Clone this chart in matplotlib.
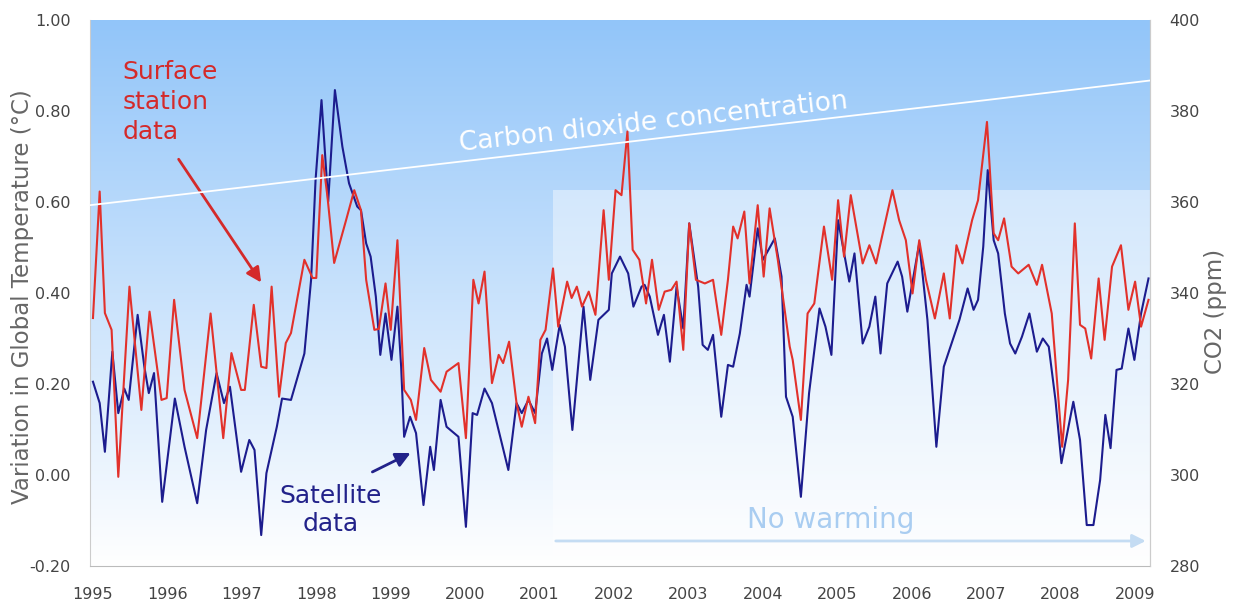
import numpy as np
import matplotlib
matplotlib.use('Agg')
import matplotlib.pyplot as plt
from matplotlib.patches import Rectangle

# surface station anomalies (deg C)
surface_years = [1995.00, 1995.09, 1995.16, 1995.25, 1995.34, 1995.49, 1995.65, 1995.76, 1995.92, 1995.99,
                 1996.09, 1996.23, 1996.40, 1996.58, 1996.75, 1996.86, 1996.99, 1997.04, 1997.16, 1997.26,
                 1997.33, 1997.40, 1997.50, 1997.59, 1997.66, 1997.84, 1997.95, 1998.00, 1998.08, 1998.15,
                 1998.24, 1998.40, 1998.51, 1998.60, 1998.67, 1998.78, 1998.84, 1998.93, 1999.00, 1999.09,
                 1999.18, 1999.27, 1999.34, 1999.45, 1999.54, 1999.67, 1999.75, 1999.91, 2000.01, 2000.11,
                 2000.18, 2000.26, 2000.36, 2000.45, 2000.51, 2000.59, 2000.69, 2000.76, 2000.85, 2000.94,
                 2001.01, 2001.08, 2001.18, 2001.25, 2001.37, 2001.43, 2001.50, 2001.57, 2001.66, 2001.75,
                 2001.86, 2001.93, 2002.02, 2002.10, 2002.18, 2002.25, 2002.34, 2002.43, 2002.51, 2002.60,
                 2002.68, 2002.77, 2002.84, 2002.93, 2003.01, 2003.10, 2003.22, 2003.33, 2003.44, 2003.53,
                 2003.60, 2003.66, 2003.75, 2003.82, 2003.93, 2004.01, 2004.09, 2004.20, 2004.36, 2004.40,
                 2004.51, 2004.60, 2004.69, 2004.82, 2004.93, 2005.01, 2005.09, 2005.18, 2005.34, 2005.43,
                 2005.52, 2005.60, 2005.74, 2005.83, 2005.92, 2006.01, 2006.10, 2006.19, 2006.31, 2006.43,
                 2006.51, 2006.60, 2006.68, 2006.81, 2006.89, 2007.01, 2007.10, 2007.16, 2007.24, 2007.34,
                 2007.43, 2007.57, 2007.68, 2007.75, 2007.88, 2007.95, 2008.02, 2008.10, 2008.19, 2008.26,
                 2008.33, 2008.41, 2008.51, 2008.59, 2008.69, 2008.81, 2008.91, 2009.00, 2009.08, 2009.18]
surface_anom = [0.345, 0.623, 0.356, 0.319, -0.004, 0.414, 0.143, 0.359, 0.165, 0.169,
                0.385, 0.187, 0.081, 0.355, 0.081, 0.268, 0.187, 0.187, 0.374, 0.238,
                0.235, 0.414, 0.172, 0.290, 0.312, 0.473, 0.433, 0.433, 0.703, 0.612,
                0.466, 0.560, 0.626, 0.582, 0.429, 0.319, 0.321, 0.421, 0.319, 0.516,
                0.187, 0.165, 0.121, 0.279, 0.209, 0.183, 0.227, 0.246, 0.081, 0.429,
                0.377, 0.447, 0.202, 0.264, 0.246, 0.293, 0.158, 0.106, 0.172, 0.114,
                0.297, 0.319, 0.454, 0.326, 0.425, 0.389, 0.414, 0.370, 0.403, 0.352,
                0.582, 0.429, 0.626, 0.615, 0.755, 0.495, 0.473, 0.377, 0.473, 0.363,
                0.403, 0.407, 0.425, 0.275, 0.553, 0.429, 0.421, 0.429, 0.308, 0.429,
                0.546, 0.520, 0.579, 0.421, 0.593, 0.436, 0.586, 0.473, 0.282, 0.253,
                0.121, 0.355, 0.377, 0.546, 0.429, 0.604, 0.480, 0.615, 0.465, 0.505,
                0.465, 0.524, 0.626, 0.560, 0.516, 0.399, 0.516, 0.429, 0.344, 0.443,
                0.344, 0.505, 0.465, 0.560, 0.604, 0.776, 0.531, 0.516, 0.564, 0.458,
                0.443, 0.462, 0.418, 0.462, 0.355, 0.209, 0.062, 0.209, 0.553, 0.330,
                0.322, 0.256, 0.432, 0.297, 0.458, 0.505, 0.363, 0.425, 0.326, 0.385]

# satellite anomalies (deg C)
satellite_years = [1995.00, 1995.09, 1995.16, 1995.26, 1995.34, 1995.42, 1995.48, 1995.60, 1995.69, 1995.75,
                   1995.82, 1995.93, 1996.10, 1996.23, 1996.40, 1996.52, 1996.66, 1996.76, 1996.84, 1996.99,
                   1997.10, 1997.17, 1997.26, 1997.33, 1997.47, 1997.54, 1997.66, 1997.84, 1997.93, 1997.99,
                   1998.07, 1998.16, 1998.25, 1998.35, 1998.44, 1998.55, 1998.60, 1998.67, 1998.73, 1998.80,
                   1998.86, 1998.93, 1999.01, 1999.09, 1999.14, 1999.18, 1999.26, 1999.34, 1999.44, 1999.53,
                   1999.58, 1999.67, 1999.75, 1999.91, 2000.01, 2000.10, 2000.16, 2000.26, 2000.36, 2000.58,
                   2000.69, 2000.76, 2000.85, 2000.94, 2001.03, 2001.10, 2001.17, 2001.27, 2001.34, 2001.44,
                   2001.59, 2001.68, 2001.79, 2001.86, 2001.93, 2001.97, 2002.08, 2002.19, 2002.26, 2002.37,
                   2002.41, 2002.48, 2002.59, 2002.67, 2002.75, 2002.84, 2002.93, 2003.01, 2003.13, 2003.19,
                   2003.26, 2003.33, 2003.44, 2003.53, 2003.60, 2003.69, 2003.78, 2003.82, 2003.93, 2004.00,
                   2004.16, 2004.25, 2004.31, 2004.40, 2004.51, 2004.62, 2004.76, 2004.84, 2004.92, 2005.01,
                   2005.16, 2005.23, 2005.34, 2005.43, 2005.51, 2005.58, 2005.67, 2005.81, 2005.87, 2005.94,
                   2006.10, 2006.21, 2006.33, 2006.43, 2006.55, 2006.64, 2006.75, 2006.83, 2006.89, 2006.96,
                   2007.02, 2007.10, 2007.16, 2007.25, 2007.32, 2007.39, 2007.48, 2007.58, 2007.68, 2007.76,
                   2007.84, 2007.93, 2008.01, 2008.17, 2008.26, 2008.35, 2008.44, 2008.53, 2008.60, 2008.67,
                   2008.75, 2008.82, 2008.91, 2008.99, 2009.08, 2009.18]
satellite_anom = [0.205, 0.158, 0.051, 0.271, 0.136, 0.190, 0.165, 0.352, 0.238, 0.180,
                  0.224, -0.059, 0.168, 0.062, -0.062, 0.099, 0.224, 0.158, 0.194, 0.007,
                  0.077, 0.055, -0.132, 0.004, 0.106, 0.168, 0.165, 0.267, 0.429, 0.648,
                  0.824, 0.601, 0.846, 0.722, 0.641, 0.590, 0.582, 0.509, 0.480, 0.392,
                  0.264, 0.355, 0.253, 0.370, 0.238, 0.084, 0.128, 0.092, -0.066, 0.062,
                  0.011, 0.165, 0.106, 0.084, -0.114, 0.136, 0.132, 0.190, 0.158, 0.011,
                  0.158, 0.136, 0.165, 0.136, 0.267, 0.300, 0.231, 0.330, 0.282, 0.099,
                  0.370, 0.209, 0.341, 0.352, 0.363, 0.443, 0.480, 0.443, 0.370, 0.414,
                  0.418, 0.392, 0.308, 0.352, 0.249, 0.414, 0.322, 0.553, 0.414, 0.286,
                  0.275, 0.308, 0.128, 0.242, 0.238, 0.311, 0.418, 0.392, 0.542, 0.473,
                  0.520, 0.436, 0.172, 0.128, -0.048, 0.180, 0.366, 0.326, 0.264, 0.560,
                  0.425, 0.487, 0.289, 0.326, 0.392, 0.267, 0.421, 0.469, 0.436, 0.359,
                  0.509, 0.341, 0.062, 0.238, 0.297, 0.341, 0.410, 0.363, 0.385, 0.502,
                  0.670, 0.516, 0.487, 0.355, 0.289, 0.267, 0.304, 0.355, 0.271, 0.300,
                  0.282, 0.165, 0.026, 0.161, 0.077, -0.110, -0.110, -0.011, 0.132, 0.059,
                  0.231, 0.234, 0.322, 0.253, 0.355, 0.432]

# CO2 concentration (ppm)
co2_years = [1994.96, 1997.0, 1999.0, 2001.0, 2003.0, 2005.0, 2007.0, 2009.2]
co2_ppm = [359.3, 363.2, 367.1, 370.9, 374.8, 378.6, 382.4, 386.7]

year_ticks = list(range(1995, 2010))
temp_ticks = [-0.2, 0.0, 0.2, 0.4, 0.6, 0.8, 1.0]
co2_ticks = [280, 300, 320, 340, 360, 380, 400]

no_warming_start = 2001.18
no_warming_top = 0.626

red = '#E2312B'
navy = '#1C1C8E'
tick_col = '#444444'
label_col = '#666666'

fig = plt.figure(figsize=(12.37, 6.06), dpi=100)
ax = fig.add_axes([90 / 1237, 40 / 606, 1060 / 1237, 546 / 606])
ax.set_xlim(1994.96, 2009.2)
ax.set_ylim(-0.2, 1.0)

# blue -> white background
top = np.array([146, 197, 249]) / 255.0
t = np.linspace(0, 1, 256)[:, None]
grad = top[None, :] * (1 - t) + np.ones(3)[None, :] * t
ax.imshow(grad[:, None, :], extent=[0, 1, 0, 1], transform=ax.transAxes,
          aspect='auto', zorder=0, interpolation='bilinear')
ax.add_patch(Rectangle((no_warming_start, -0.2), 2009.2 - no_warming_start, no_warming_top + 0.2,
                       facecolor='white', alpha=0.42, edgecolor='none', zorder=1))

ax.plot(satellite_years, satellite_anom, color=navy, lw=1.5, zorder=3, solid_joinstyle='round')
ax.plot(surface_years, surface_anom, color=red, lw=1.5, zorder=4, solid_joinstyle='round')

ax.set_xticks(year_ticks)
ax.set_xticklabels([str(y) for y in year_ticks])
ax.set_yticks(temp_ticks)
ax.set_yticklabels(['%.2f' % v for v in temp_ticks])
ax.tick_params(length=0, colors=tick_col, labelsize=11.5)
ax.tick_params(axis='x', pad=15)
ax.tick_params(axis='y', pad=14)
ax.set_ylabel('Variation in Global Temperature (°C)', color=label_col, fontsize=16.5)
ax.yaxis.set_label_coords(-0.053, 0.493)
ax.spines['top'].set_visible(False)
ax.spines['left'].set_color('#CCCCCC')
ax.spines['bottom'].set_color('#BBBBBB')
ax.spines['right'].set_color('#CCCCCC')

ax2 = ax.twinx()
ax2.set_ylim(280, 400)
ax2.set_yticks(co2_ticks)
ax2.tick_params(length=0, colors=tick_col, labelsize=11.5, pad=14)
ax2.set_ylabel('CO2 (ppm)', color=label_col, fontsize=16.5)
ax2.yaxis.set_label_coords(1.051, 0.467)
ax2.plot(co2_years, co2_ppm, color='white', lw=1.3, zorder=5)
ax2.spines['top'].set_visible(False)
ax2.spines['left'].set_visible(False)
ax2.spines['bottom'].set_visible(False)
ax2.spines['right'].set_color('#CCCCCC')

ax2.text(1999.93, 371.2, 'Carbon dioxide concentration', color='white', fontsize=19,
         rotation=6.3, rotation_mode='anchor', ha='left', va='baseline')

ax.text(1995.40, 0.912, 'Surface\nstation\ndata', color='#D42A2A', fontsize=18,
        ha='left', va='top', linespacing=1.32, zorder=6)
ax.annotate('', xy=(1997.28, 0.418), xytext=(1996.13, 0.699),
            arrowprops=dict(arrowstyle='-|>', color='#D42A2A', lw=2, mutation_scale=22), zorder=6)

ax.text(1998.19, -0.077, 'Satellite\ndata', color='#22228A', fontsize=18,
        ha='center', va='center', linespacing=1.25, zorder=6)
ax.annotate('', xy=(1999.30, 0.051), xytext=(1998.72, 0.004),
            arrowprops=dict(arrowstyle='-|>', color='#22228A', lw=2, mutation_scale=22), zorder=6)

ax.text(2004.91, -0.099, 'No warming', color='#A9CDF1', fontsize=20,
        ha='center', va='center', zorder=6)
ax.annotate('', xy=(2009.18, -0.145), xytext=(no_warming_start, -0.145),
            arrowprops=dict(arrowstyle='-|>', color='#C4DCF3', lw=2, mutation_scale=20), zorder=6)

fig.savefig('out.png', dpi=100)
